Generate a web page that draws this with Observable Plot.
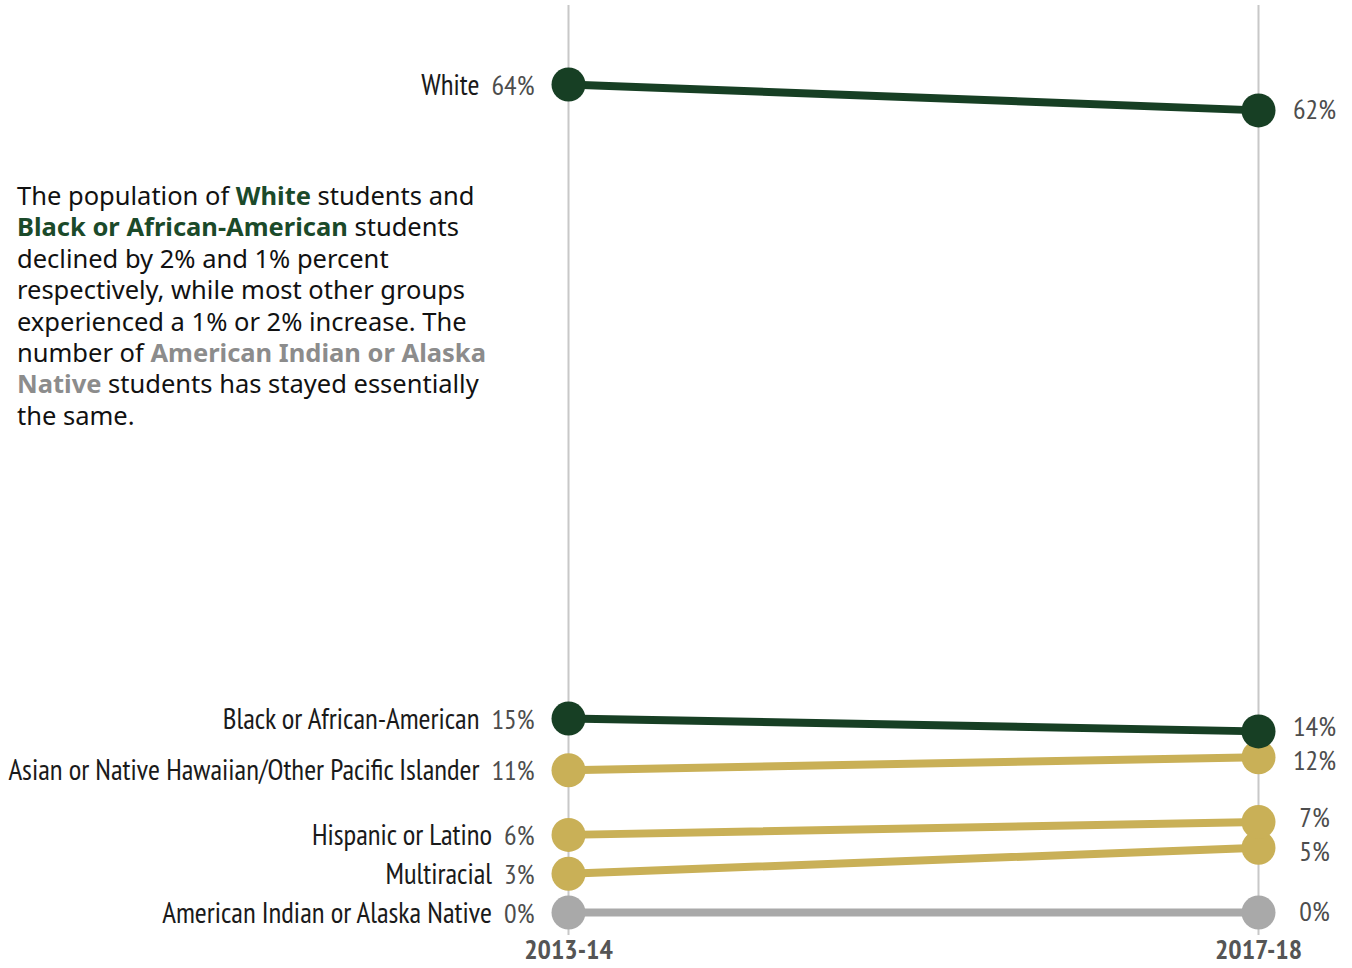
<!DOCTYPE html>
<html>
<head>
<meta charset="utf-8">
<script src="https://cdn.jsdelivr.net/npm/d3@7"></script>
<script src="https://cdn.jsdelivr.net/npm/@observablehq/plot@0.6"></script>
<style>
  html, body { margin: 0; padding: 0; background: #fff; }
  #wrap { position: relative; width: 1352px; height: 968px; }
  #note {
    position: absolute; left: 17px; top: 180px; width: 520px;
    font-family: "Noto Sans", "Open Sans", sans-serif; font-size: 25.5px; line-height: 31.4px;
    color: #111; white-space: nowrap;
  }
  #note b.dk { color: #1b4a2a; }
  #note b.gy { color: #8c8c8c; }
</style>
</head>
<body>
<div id="wrap">
  <div id="chart"></div>
  <div id="note">The population of <b class="dk">White</b> students and<br><b class="dk">Black or African-American</b> students<br>declined by 2% and 1% percent<br>respectively, while most other groups<br>experienced a 1% or 2% increase. The<br>number of <b class="gy">American Indian or Alaska</b><br><b class="gy">Native</b> students has stayed essentially<br>the same.</div>
</div>
<script>
const years = ["2013-14", "2017-18"];
const groups = [
  "White",
  "Black or African-American",
  "Asian or Native Hawaiian/Other Pacific Islander",
  "Hispanic or Latino",
  "Multiracial",
  "American Indian or Alaska Native"
];
const values2013 = [64, 15, 11, 6, 3, 0];
const values2018 = [62, 14, 12, 7, 5, 0];
const colorKeys = ["dark", "dark", "gold", "gold", "gold", "gray"];
const palette = { dark: "#173f24", gold: "#c9b057", gray: "#a9a9a9" };

const rows = [];
groups.forEach((g, i) => {
  rows.push({ group: g, year: years[0], value: values2013[i], key: colorKeys[i], order: i });
  rows.push({ group: g, year: years[1], value: values2018[i], key: colorKeys[i], order: i });
});
// draw later groups first so upper groups sit on top
const drawRows = rows.slice().sort((a, b) => b.order - a.order);
const left = rows.filter(d => d.year === years[0]);
const right = rows.filter(d => d.year === years[1]);
const fmt = v => v + "%";

const labelFont = "'PT Sans Narrow', 'Liberation Sans Narrow', 'Arial Narrow', 'DejaVu Sans Condensed', sans-serif";

const chart = Plot.plot({
  width: 1352,
  height: 968,
  marginLeft: 568,
  marginRight: 94,
  marginTop: 84,
  marginBottom: 56,
  style: { fontFamily: labelFont, background: "transparent" },
  x: { type: "point", domain: years, range: [568, 1258], padding: 0, axis: null },
  y: { domain: [0, 64], range: [912, 84], axis: null },
  marks: [
    Plot.ruleX(years, { x: d => d, stroke: "#c8c8c8", strokeWidth: 2, insetTop: -79, insetBottom: -23 }),
    Plot.line(drawRows, { x: "year", y: "value", z: "group", stroke: d => palette[d.key], strokeWidth: 8 }),
    Plot.dot(drawRows, { x: "year", y: "value", r: 17, fill: d => palette[d.key], stroke: "none" }),
    Plot.text(left, { x: "year", y: "value", text: d => d.group, textAnchor: "end", dx: -34, dy: 1, fontSize: 29, fill: "#1a1a1a" }),
    Plot.text(right, { x: "year", y: "value", text: d => fmt(d.value), textAnchor: "middle", dx: 56, fontSize: 28, fill: "#4d4d4d" }),
    Plot.axisX({ tickSize: 0, tickPadding: 27, fontSize: 28, fontWeight: "bold", fill: "#555", label: null })
  ]
});
document.getElementById("chart").appendChild(chart);

// append the 2013-14 percentage in grey after each group name
const pctByGroup = new Map(left.map(d => [d.group, fmt(d.value)]));
const rightTexts = [];
chart.querySelectorAll("text").forEach(t => {
  const name = t.textContent;
  if (pctByGroup.has(name)) {
    const ts = document.createElementNS("http://www.w3.org/2000/svg", "tspan");
    ts.setAttribute("dx", "12");
    ts.setAttribute("fill", "#4d4d4d");
    ts.setAttribute("font-size", "28");
    ts.textContent = pctByGroup.get(name);
    t.appendChild(ts);
  } else if (/%$/.test(name)) {
    rightTexts.push(t);
  }
});

// nudge overlapping right-hand labels apart (screen coordinates)
const items = rightTexts.map(t => {
  const b = t.getBoundingClientRect();
  const c = b.top + b.height / 2;
  return { t, c, pos: c };
}).sort((a, b) => a.c - b.c);
const gap = 34;
for (let iter = 0; iter < 50; iter++) {
  for (let i = 1; i < items.length; i++) {
    const d = items[i].pos - items[i - 1].pos;
    if (d < gap) {
      const s = (gap - d) / 2;
      items[i - 1].pos -= s;
      items[i].pos += s;
    }
  }
}
items.forEach(it => {
  const shift = it.pos - it.c;
  if (Math.abs(shift) > 0.01) {
    const tr = it.t.getAttribute("transform") || "";
    it.t.setAttribute("transform", (tr + ` translate(0,${shift.toFixed(2)})`).trim());
  }
});
</script>
</body>
</html>
